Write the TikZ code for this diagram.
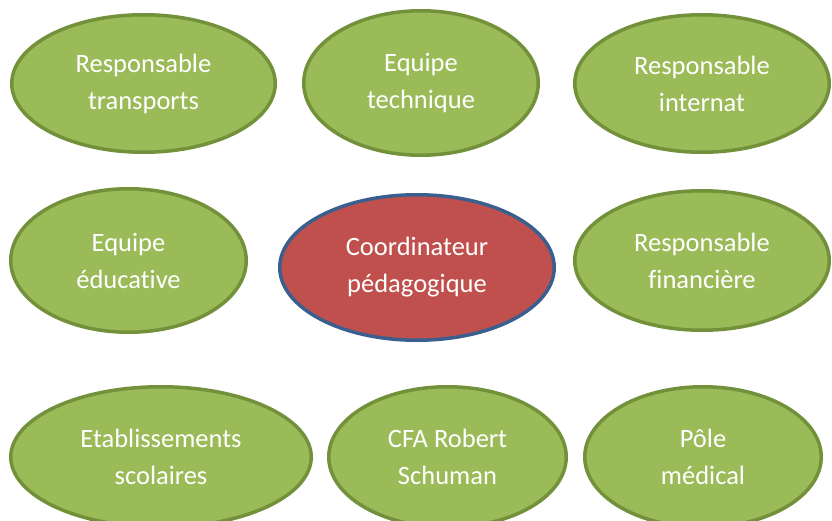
\documentclass[tikz,border=0pt]{standalone}
\usepackage{fontspec}
\setmainfont{Carlito}[Ligatures=NoCommon]
\usepackage{tikz}
\usetikzlibrary{shapes.geometric}
\definecolor{leaf}{HTML}{9BBB59}
\definecolor{leafdark}{HTML}{73903B}
\definecolor{brick}{HTML}{C0504D}
\definecolor{navy}{HTML}{3A5F8E}

\begin{document}
\begin{tikzpicture}[
                    x=1pt, y=-1pt,
                    pole/.style={ellipse, draw=leafdark, fill=leaf, line width=3.5pt,
                        text=white, align=center, inner sep=0pt,
                        font=\fontsize{26.5}{37}\selectfont},
                    centre/.style={pole, draw=navy, fill=brick}]

                \clip (0,0) rectangle (832,521);

                % top row
                \draw(143.5,83.5) node (transp) [pole, minimum width=263.5pt, minimum height=137.5pt] {Responsable\\transports};
                \draw(421,83) node (tech) [pole, minimum width=234.5pt, minimum height=144.5pt] {Equipe\\technique};
                \draw(702,83.5) node (intern) [pole, minimum width=254.5pt, minimum height=137.5pt] {Responsable\\internat};

                % middle row
                \draw(128.5,260.5) node (educ) [pole, minimum width=235.5pt, minimum height=143.5pt] {Equipe\\éducative};
                \draw(417,267.5) node (coord) [centre, minimum width=274.5pt, minimum height=145.5pt] {Coordinateur\\pédagogique};
                \draw(702,260.5) node (fin) [pole, minimum width=254.5pt, minimum height=139.5pt] {Responsable\\financière};

                % bottom row
                \draw(161,457) node (etab) [pole, minimum width=300.5pt, minimum height=140.5pt] {Etablissements\\scolaires};
                \draw(447.5,457) node (cfa) [pole, minimum width=237.5pt, minimum height=140.5pt] {CFA Robert\\Schuman};
                \draw(703,457) node (med) [pole, minimum width=236.5pt, minimum height=140.5pt] {Pôle\\médical};

            \end{tikzpicture}
\end{document}
